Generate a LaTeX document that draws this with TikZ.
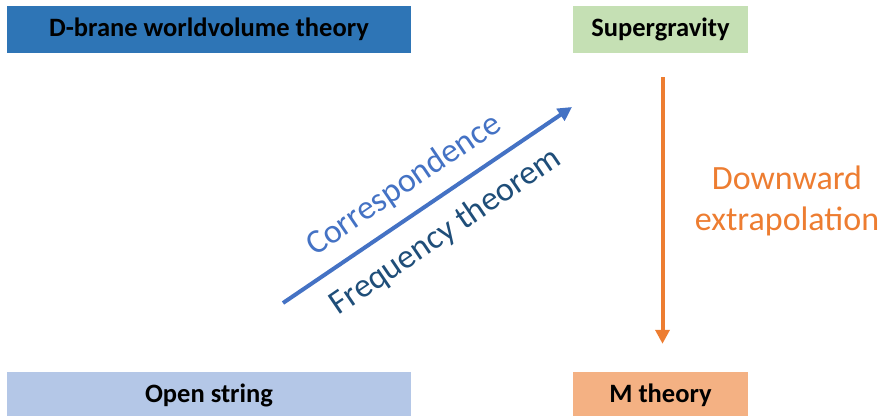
\documentclass[tikz,border=0pt]{standalone}
\usepackage{fontspec}
\setmainfont{Carlito}
\usetikzlibrary{arrows.meta}
\definecolor{boxdark}{HTML}{2E75B6}
\definecolor{boxgreen}{HTML}{C5E0B4}
\definecolor{boxlight}{HTML}{B4C7E7}
\definecolor{boxorange}{HTML}{F4B183}
\definecolor{arrblue}{HTML}{4472C4}
\definecolor{arrorange}{HTML}{ED7D31}
\definecolor{txtnavy}{HTML}{1F4E79}
\tikzset{
	theorybox/.style={inner sep=0pt, minimum height=47pt, font=\fontsize{26.5}{30}\selectfont\bfseries},
	bigarrow/.style={line width=4pt, -{Triangle[length=14pt, width=14pt]}},
	arrowtext/.style={font=\fontsize{34}{41}\selectfont},
}

\begin{document}
\begin{tikzpicture}[x=1pt, y=-1pt]
			%%%%% START %%%%%
			
			\useasboundingbox (0, 0) rectangle (882, 415);
			
			\node[theorybox, fill=boxdark, minimum width=404pt] (dbrane) at (209, 29.5) {D-brane worldvolume theory};
			\node[theorybox, fill=boxgreen, minimum width=175pt] (sugra) at (660.5, 29.5) {Supergravity};
			
			\node[theorybox, fill=boxlight, minimum width=404pt] (openstr) at (209, 395.5) {Open string};
			\node[theorybox, fill=boxorange, minimum width=175pt] (mth) at (660.5, 395.5) {M theory};
			
			\coordinate (corrtail) at (283, 303);
			\coordinate (corrtip) at (572, 107);
			\draw[bigarrow, arrblue] (corrtail) -- (corrtip);
			
			\node[arrblue, rotate=34.2, arrowtext] (corr) at (404, 185) {Correspondence};
			\node[txtnavy, rotate=34.2, arrowtext] (freq) at (446, 232) {Frequency theorem};
			
			\draw[bigarrow, arrorange] ([xshift=2pt, yshift=-24pt]sugra.south) -- ([xshift=2pt, yshift=28pt]mth.north);
			
			\node[arrorange, align=center, arrowtext] (down) at (787, 201) {Downward\\extrapolation};
			
			%%%%% END %%%%%
\end{tikzpicture}
\end{document}
